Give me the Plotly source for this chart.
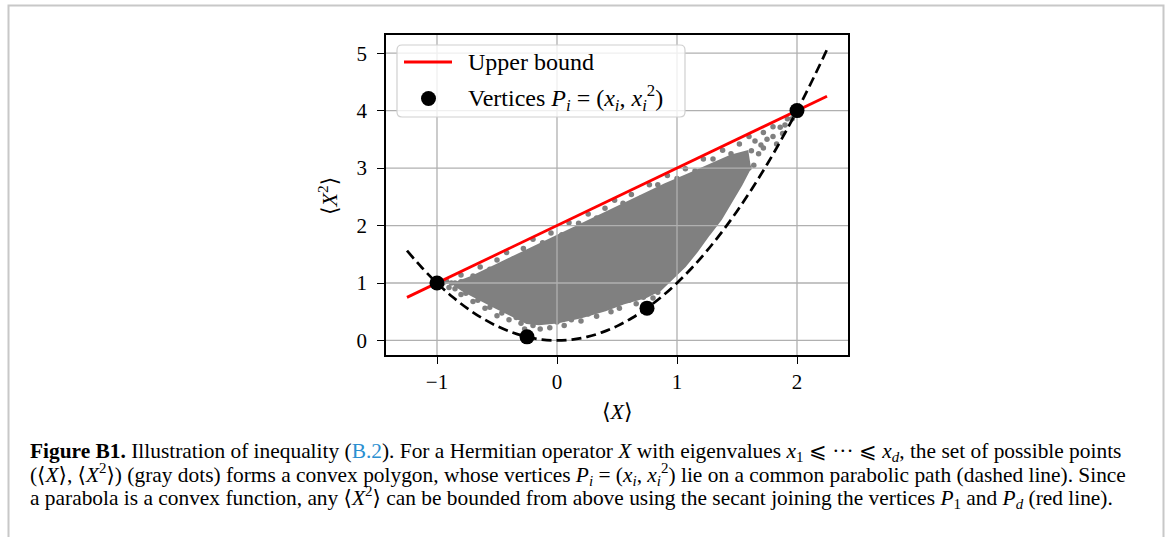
import plotly.graph_objects as go

# ---------------- data ----------------
x_ticks = [-1, 0, 1, 2]
y_ticks = [0, 1, 2, 3, 4, 5]
x_tick_text = ["\u22121", "0", "1", "2"]
y_tick_text = ["0", "1", "2", "3", "4", "5"]
x_range = [-1.425, 2.425]
y_range = [-0.253, 5.316]

# secant (upper bound) endpoints
bound_x = [-1.25, 2.25]
bound_y = [0.75, 4.25]

# parabolic path (dashed line)
para_x = [-1.25, -1.125, -1.0, -0.875, -0.75, -0.625, -0.5, -0.375, -0.25, -0.125, 0.0,
          0.125, 0.25, 0.375, 0.5, 0.625, 0.75, 0.875, 1.0, 1.125, 1.25, 1.375, 1.5,
          1.625, 1.75, 1.875, 2.0, 2.125, 2.25]
para_y = [1.5625, 1.2656, 1.0, 0.7656, 0.5625, 0.3906, 0.25, 0.1406, 0.0625, 0.0156, 0.0,
          0.0156, 0.0625, 0.1406, 0.25, 0.3906, 0.5625, 0.7656, 1.0, 1.2656, 1.5625, 1.8906, 2.25,
          2.6406, 3.0625, 3.5156, 4.0, 4.5156, 5.0625]

# vertices P_i
vert_x = [-1.0, -0.25, 0.75, 2.0]
vert_y = [1.0, 0.0625, 0.5625, 4.0]

# dense core of the gray point cloud (outline)
core_x = [-0.85, -0.7, -0.5, -0.3, -0.1, 0.1, 0.3, 0.5, 0.7, 0.9, 1.1, 1.3, 1.45, 1.58,
          1.6, 1.53, 1.45, 1.36, 1.26, 1.16, 1.06, 0.95, 0.86, 0.74,
          0.55, 0.4, 0.2, 0.0, -0.15, -0.25, -0.35, -0.5, -0.65, -0.78]
core_y = [0.98, 1.1, 1.3, 1.5, 1.7, 1.9, 2.1, 2.3, 2.5, 2.7, 2.88, 3.06, 3.2, 3.27,
          3.0, 2.72, 2.45, 2.12, 1.85, 1.56, 1.3, 1.08, 0.9, 0.77,
          0.66, 0.54, 0.42, 0.33, 0.3, 0.32, 0.42, 0.58, 0.74, 0.88]

# scattered gray dots forming the fuzzy fringe of the cloud
dots_x = [-0.92, -0.85, -0.8, -0.7, -0.64, -0.56, -0.5, -0.42, -0.36, -0.28, -0.2, -0.12, -0.05,
          0.04, 0.1, 0.18, 0.26, 0.33, 0.4, 0.48, 0.55, 0.62, 0.7, 0.77, 0.84, 0.92, 1.0, 1.07,
          1.15, 1.22, 1.3, 1.38, 1.45, 1.52, 1.6, 1.65, 1.72, 1.8, 1.86, 1.92, 1.96,
          1.7, 1.75, 1.8, 1.88, 1.9, 1.62, 1.68, 1.58, 1.64, 1.72, 1.83,
          1.6, 1.55, 1.53, 1.47, 1.42, 1.4, 1.33, 1.28, 1.25, 1.19, 1.14, 1.1, 1.04, 0.99,
          0.97, 0.9, 0.86, 0.84,
          0.8, 0.72, 0.66, 0.6, 0.52, 0.45, 0.4, 0.33, 0.26, 0.2, 0.12, 0.06, 0.0, -0.06,
          -0.14, -0.2, -0.24, -0.27,
          -0.3, -0.34, -0.4, -0.46, -0.5, -0.56, -0.6, -0.66, -0.7, -0.76, -0.8, -0.85, -0.9,
          -0.95, -0.88, -0.8, -0.72]
dots_y = [1.03, 1.0, 1.14, 1.12, 1.28, 1.24, 1.4, 1.53, 1.42, 1.6, 1.76, 1.7, 1.87,
          1.84, 2.05, 2.04, 2.2, 2.13, 2.3, 2.44, 2.39, 2.54, 2.48, 2.71, 2.71, 2.87, 2.82, 2.99,
          2.95, 3.16, 3.16, 3.31, 3.25, 3.42, 3.55, 3.47, 3.62, 3.72, 3.71, 3.86, 3.86,
          3.4, 3.5, 3.55, 3.6, 3.75, 3.3, 3.25, 3.1, 3.05, 3.35, 3.42,
          3.0, 2.92, 2.78, 2.62, 2.55, 2.38, 2.22, 2.15, 1.97, 1.8, 1.75, 1.58, 1.42, 1.36,
          1.2, 1.02, 0.96, 0.84,
          0.74, 0.75, 0.64, 0.7, 0.56, 0.5, 0.58, 0.42, 0.46, 0.34, 0.36, 0.26, 0.32, 0.22,
          0.2, 0.26, 0.14, 0.2,
          0.3, 0.4, 0.36, 0.48, 0.43, 0.58, 0.56, 0.7, 0.68, 0.82, 0.8, 0.9, 0.92,
          1.0, 1.0, 1.02, 0.98]

# ---------------- layout geometry (pixels) ----------------
W, H = 1168, 537
L, R, T, B = 386, 848, 35, 355
PW, PH = R - L, B - T


def px(x):
    return (x - L) / PW


def py(y):
    return (B - y) / PH


FONT = "Liberation Serif, DejaVu Serif, serif"
GRID = "#b0b0b0"
CLOUD = "#808080"

fig = go.Figure()

# gray cloud core
fig.add_trace(go.Scatter(x=core_x + core_x[:1], y=core_y + core_y[:1], mode="lines",
                         fill="toself", fillcolor=CLOUD,
                         line=dict(color=CLOUD, width=4),
                         hoverinfo="skip", showlegend=False))
fig.add_trace(go.Scatter(x=dots_x, y=dots_y, mode="markers",
                         marker=dict(color=CLOUD, size=5.5),
                         hoverinfo="skip", showlegend=False))

# grid lines drawn above the cloud (as in the reference)
gx, gy = [], []
for t in x_ticks:
    gx += [t, t, None]
    gy += [y_range[0], y_range[1], None]
for t in y_ticks:
    gx += [x_range[0], x_range[1], None]
    gy += [t, t, None]
fig.add_trace(go.Scatter(x=gx, y=gy, mode="lines", line=dict(color=GRID, width=1.3),
                         hoverinfo="skip", showlegend=False))

# dashed parabola
fig.add_trace(go.Scatter(x=para_x, y=para_y, mode="lines",
                         line=dict(color="black", width=2.7, dash="10px,5px", shape="spline"),
                         hoverinfo="skip", showlegend=False))

# upper bound line
fig.add_trace(go.Scatter(x=bound_x, y=bound_y, mode="lines", name="Upper bound",
                         line=dict(color="red", width=2.8), showlegend=False))

# vertices
fig.add_trace(go.Scatter(x=vert_x, y=vert_y, mode="markers", name="Vertices",
                         marker=dict(color="black", size=15), showlegend=False))

axis_common = dict(showgrid=False, zeroline=False, showline=True, mirror=True,
                   linecolor="black", linewidth=1.6, ticks="outside", ticklen=7,
                   tickwidth=1.4, tickcolor="black",
                   tickfont=dict(family=FONT, size=21, color="black"))

fig.update_xaxes(range=x_range, tickvals=x_ticks, ticktext=x_tick_text,
                 ticklabelstandoff=0, **axis_common)
fig.update_yaxes(range=y_range, tickvals=y_ticks, ticktext=y_tick_text,
                 ticklabelstandoff=6, **axis_common)

shapes = []
# outer figure border
shapes.append(dict(type="rect", xref="paper", yref="paper",
                   x0=px(8.5), x1=px(1163.5), y0=py(560), y1=py(5.5),
                   line=dict(color="#c8c8c8", width=2), layer="above"))

# legend box with rounded corners
lx0, lx1, ly0, ly1, r = 397, 685, 45, 117, 5
path = (f"M {px(lx0 + r)} {py(ly0)} L {px(lx1 - r)} {py(ly0)} "
        f"Q {px(lx1)} {py(ly0)} {px(lx1)} {py(ly0 + r)} "
        f"L {px(lx1)} {py(ly1 - r)} Q {px(lx1)} {py(ly1)} {px(lx1 - r)} {py(ly1)} "
        f"L {px(lx0 + r)} {py(ly1)} Q {px(lx0)} {py(ly1)} {px(lx0)} {py(ly1 - r)} "
        f"L {px(lx0)} {py(ly0 + r)} Q {px(lx0)} {py(ly0)} {px(lx0 + r)} {py(ly0)} Z")
shapes.append(dict(type="path", xref="paper", yref="paper", path=path,
                   fillcolor="rgba(255,255,255,0.8)", line=dict(color="#d0d0d0", width=1.2),
                   layer="above"))
# legend symbols
shapes.append(dict(type="line", xref="paper", yref="paper",
                   x0=px(404), x1=px(452), y0=py(62), y1=py(62),
                   line=dict(color="red", width=2.8), layer="above"))
shapes.append(dict(type="circle", xref="paper", yref="paper",
                   xsizemode="pixel", ysizemode="pixel",
                   xanchor=px(428.5), yanchor=py(98.5), x0=-7.5, x1=7.5, y0=-7.5, y1=7.5,
                   fillcolor="black", line=dict(color="black", width=0), layer="above"))

LEG = 24
annotations = [
    dict(text="Upper bound", x=px(466), y=py(62), xref="paper", yref="paper",
         xanchor="left", yanchor="middle", showarrow=False,
         font=dict(family=FONT, size=LEG, color="black")),
    dict(text="Vertices <i>P<sub>i</sub></i> = (<i>x<sub>i</sub></i>, <i>x<sub>i</sub></i><sup>2</sup>)",
         x=px(466), y=py(98), xref="paper", yref="paper",
         xanchor="left", yanchor="middle", showarrow=False,
         font=dict(family=FONT, size=LEG, color="black")),
    # axis titles
    dict(text="\u27e8<i>X</i>\u27e9", x=px(617), y=py(411), xref="paper", yref="paper",
         xanchor="center", yanchor="middle", showarrow=False,
         font=dict(family=FONT, size=22, color="black")),
    dict(text="\u27e8<i>X</i><sup>2</sup>\u27e9", x=px(328), y=py(196), xref="paper", yref="paper",
         xanchor="center", yanchor="middle", showarrow=False, textangle=-90,
         font=dict(family=FONT, size=22, color="black")),
]

caption = [
    "<b>Figure B1.</b> Illustration of inequality (<span style='color:#2b8fd1'>B.2</span>). "
    "For a Hermitian operator <i>X</i> with eigenvalues <i>x</i><sub>1</sub> \u2a7d \u00b7\u00b7\u00b7 \u2a7d <i>x<sub>d</sub></i>, "
    "the set of possible points",
    "(\u27e8<i>X</i>\u27e9, \u27e8<i>X</i><sup>2</sup>\u27e9) (gray dots) forms a convex polygon, whose vertices "
    "<i>P<sub>i</sub></i> = (<i>x<sub>i</sub></i>, <i>x<sub>i</sub></i><sup>2</sup>) lie on a common parabolic path "
    "(dashed line). Since",
    "a parabola is a convex function, any \u27e8<i>X</i><sup>2</sup>\u27e9 can be bounded from above using the "
    "secant joining the vertices <i>P</i><sub>1</sub> and <i>P<sub>d</sub></i> (red line).",
]
for i, line in enumerate(caption):
    annotations.append(dict(text=line, x=px(28), y=py(452 + 22.6 * i), xref="paper", yref="paper",
                            xanchor="left", yanchor="middle", showarrow=False,
                            font=dict(family=FONT, size=21.4, color="black")))

fig.update_layout(width=W, height=H, margin=dict(l=L, r=W - R, t=T, b=H - B),
                  paper_bgcolor="white", plot_bgcolor="white",
                  shapes=shapes, annotations=annotations, showlegend=False)

fig.write_html("out.html")
